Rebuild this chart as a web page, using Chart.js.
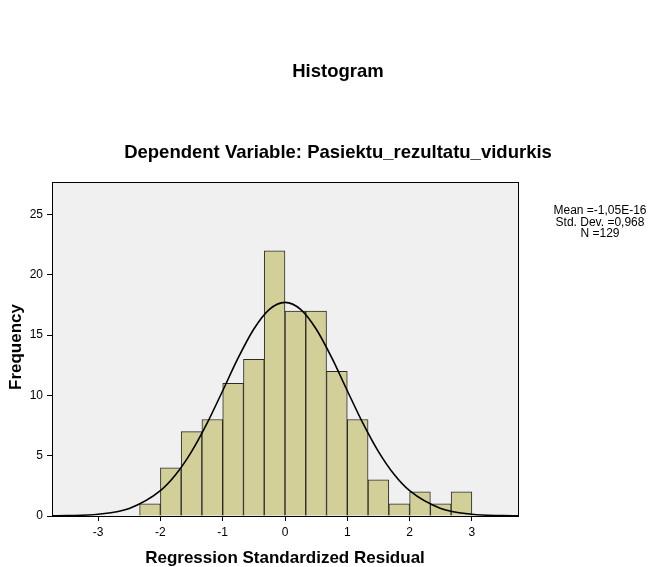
<!DOCTYPE html>
<html>
<head>
<meta charset="utf-8">
<script src="https://cdn.jsdelivr.net/npm/chart.js@4/dist/chart.umd.min.js"></script>
<style>
  html, body { margin: 0; padding: 0; background: #fff; }
  #wrap { width: 650px; height: 567px; position: relative; }
</style>
</head>
<body>
<div id="wrap"><canvas id="hist" width="650" height="567"></canvas></div>
<script>
// histogram bins (centres, width 1/3) and counts
const binCenters = [-2.167, -1.833, -1.5, -1.167, -0.833, -0.5, -0.167, 0.167, 0.5, 0.833, 1.167, 1.5, 1.833, 2.167, 2.5, 2.833];
const binCounts = [1, 4, 7, 8, 11, 13, 22, 17, 17, 12, 8, 3, 1, 2, 1, 2];

// normal curve, points
const curveX = [-3.74, -3.5, -3, -2.5, -2, -1.75, -1.5, -1.25, -1, -0.75, -0.5, -0.25, 0, 0.25, 0.5, 0.75, 1, 1.25, 1.5, 1.75, 2, 2.5, 3, 3.5, 3.74];
const curveY = [0.01, 0.03, 0.15, 0.63, 2.1, 3.46, 5.34, 7.7, 10.39, 13.13, 15.51, 17.14, 17.72, 17.14, 15.51, 13.13, 10.39, 7.7, 5.34, 3.46, 2.1, 0.63, 0.15, 0.03, 0.01];

const xTicks = [-3, -2, -1, 0, 1, 2, 3];
const yTicks = [0, 5, 10, 15, 20, 25];

const mainTitle = 'Histogram';
const subTitle = 'Dependent Variable: Pasiektu_rezultatu_vidurkis';
const xTitle = 'Regression Standardized Residual';
const yTitle = 'Frequency';
const statsLines = ['Mean =-1,05E-16', 'Std. Dev. =0,968', 'N =129'];

const FONT = '"Liberation Sans", Arial, sans-serif';

const frame = {
  id: 'frame',
  beforeDatasetsDraw(chart) {
    const { ctx, chartArea: a } = chart;
    ctx.save();
    ctx.fillStyle = '#f0f0f0';
    ctx.fillRect(a.left, a.top, a.right - a.left, a.bottom - a.top);
    ctx.restore();
  },
  afterDraw(chart) {
    const { ctx, chartArea: a } = chart;
    ctx.save();
    ctx.strokeStyle = '#000';
    ctx.lineWidth = 1;
    ctx.strokeRect(Math.round(a.left) + 0.5, Math.round(a.top) + 0.5, Math.round(a.right - a.left), Math.round(a.bottom - a.top));

    ctx.fillStyle = '#000';
    ctx.textAlign = 'center';
    ctx.textBaseline = 'middle';
    ctx.font = 'bold 18.5px ' + FONT;
    ctx.fillText(mainTitle, 338, 72);
    ctx.fillText(subTitle, 338, 153);
    ctx.font = 'bold 17px ' + FONT;
    ctx.fillText(xTitle, 285, 558);

    ctx.save();
    ctx.translate(16, 347);
    ctx.rotate(-Math.PI / 2);
    ctx.fillText(yTitle, 0, 0);
    ctx.restore();

    ctx.font = '12px ' + FONT;
    statsLines.forEach((t, i) => ctx.fillText(t, 600, 211 + i * 11.5));
    ctx.restore();
  }
};

new Chart(document.getElementById('hist'), {
  type: 'bar',
  data: {
    datasets: [
      {
        type: 'line',
        data: curveX.map((x, i) => ({ x: x, y: curveY[i] })),
        borderColor: '#000',
        borderWidth: 1.6,
        pointRadius: 0,
        tension: 0.4,
        cubicInterpolationMode: 'monotone',
        fill: false,
        order: 1
      },
      {
        type: 'bar',
        data: binCenters.map((x, i) => ({ x: x, y: binCounts[i] })),
        backgroundColor: '#d3cf99',
        borderColor: '#2a2a2a',
        borderWidth: 1,
        barPercentage: 1,
        categoryPercentage: 1,
        order: 2
      }
    ]
  },
  options: {
    responsive: false,
    animation: false,
    devicePixelRatio: 1,
    layout: { padding: { left: 0, top: 182, right: 132, bottom: 0 } },
    plugins: { legend: { display: false }, tooltip: { enabled: false } },
    scales: {
      x: {
        type: 'linear',
        min: -3.74,
        max: 3.74,
        offset: false,
        afterBuildTicks: s => { s.ticks = xTicks.map(v => ({ value: v })); },
        afterFit: s => { s.height = 51; },
        grid: { offset: false, drawOnChartArea: false, drawTicks: true, tickLength: 5, color: '#000' },
        border: { display: false },
        ticks: { color: '#000', font: { family: FONT, size: 12 }, padding: 4, maxRotation: 0 }
      },
      y: {
        min: 0,
        max: 27.7,
        afterBuildTicks: s => { s.ticks = yTicks.map(v => ({ value: v })); },
        afterFit: s => { s.width = 52; },
        grid: { drawOnChartArea: false, drawTicks: true, tickLength: 5, color: '#000' },
        border: { display: false },
        ticks: { color: '#000', font: { family: FONT, size: 12 }, padding: 4 }
      }
    }
  },
  plugins: [frame]
});
</script>
</body>
</html>
